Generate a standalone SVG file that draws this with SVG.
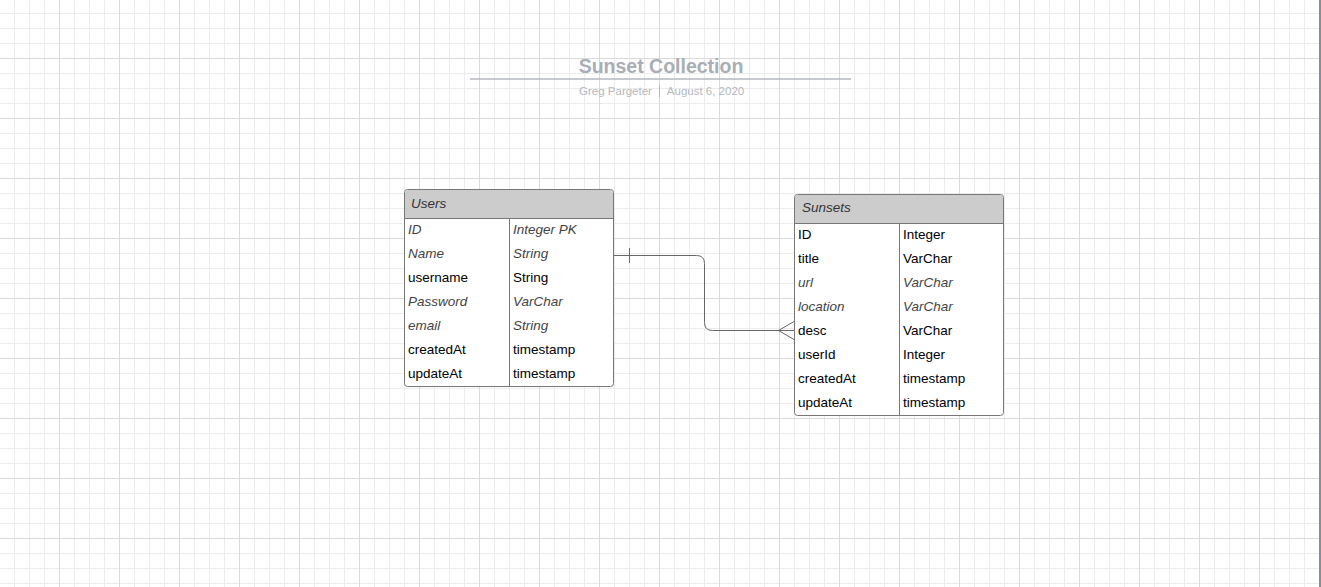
<svg xmlns="http://www.w3.org/2000/svg" width="1321" height="587" viewBox="0 0 1321 587">
<defs>
<pattern id="minor" x="14" y="13" width="15" height="15" patternUnits="userSpaceOnUse">
<path d="M0.5 0V15M0 0.5H15" stroke="#ececec" stroke-width="1" fill="none"/>
</pattern>
<pattern id="major" x="59" y="58" width="60" height="60" patternUnits="userSpaceOnUse">
<path d="M0.5 0V60M0 0.5H60" stroke="#dadada" stroke-width="1" fill="none"/>
</pattern>
</defs>
<style>
text{font-family:"Liberation Sans",Arial,sans-serif;font-size:13.5px;fill:#000}
.i{font-style:italic;fill:#444}
.h{font-style:italic;fill:#333}
.box{fill:#fff;stroke:#777;stroke-width:1}
.hd{fill:#cccccc}
.ln{stroke:#777;stroke-width:1;fill:none}
.conn{stroke:#666;stroke-width:1;fill:none}
.sub{font-size:11.5px;fill:#b5b9c0}
</style>
<rect width="1321" height="587" fill="#fff"/>
<rect width="1321" height="587" fill="url(#minor)"/>
<rect width="1321" height="587" fill="url(#major)"/>
<rect x="1319" y="0" width="2" height="587" fill="#8a8d99"/>

<g id="title">
<text x="661" y="73" text-anchor="middle" style="font-size:19.5px;font-weight:bold;fill:#a9adb5">Sunset Collection</text>
<line x1="470" y1="79" x2="851" y2="79" stroke="#b3b7be" stroke-width="1.5"/>
<text class="sub" x="615.5" y="95" text-anchor="middle">Greg Pargeter</text>
<line x1="659.5" y1="85" x2="659.5" y2="97" stroke="#b5b9c0" stroke-width="1"/>
<text class="sub" x="705.5" y="95" text-anchor="middle">August 6, 2020</text>
</g>

<g id="connectors">
<path class="conn" d="M613.5 255.5H696.5Q704.5 255.5 704.5 263.5V322.5Q704.5 330.5 712.5 330.5H794"/>
<line class="conn" x1="629.5" y1="248" x2="629.5" y2="263"/>
<path class="conn" d="M794 321.5L778.5 330.5L794 339.5"/>
</g>

<g id="users">
<rect class="box" x="404.5" y="189.5" width="209" height="197" rx="3"/>
<path class="hd" d="M405 218.5V193Q405 190 408 190H610Q613 190 613 193V218.5Z"/>
<line class="ln" x1="404.5" y1="218.5" x2="613.5" y2="218.5"/>
<line class="ln" x1="509.5" y1="218.5" x2="509.5" y2="386.5"/>
<text class="h" x="411" y="208">Users</text>
<text class="i" x="408" y="234">ID</text><text class="i" x="513" y="234">Integer PK</text>
<text class="i" x="408" y="258">Name</text><text class="i" x="513" y="258">String</text>
<text x="408" y="282">username</text><text x="513" y="282">String</text>
<text class="i" x="408" y="306">Password</text><text class="i" x="513" y="306">VarChar</text>
<text class="i" x="408" y="330">email</text><text class="i" x="513" y="330">String</text>
<text x="408" y="354">createdAt</text><text x="513" y="354">timestamp</text>
<text x="408" y="378">updateAt</text><text x="513" y="378">timestamp</text>
</g>

<g id="sunsets">
<rect class="box" x="794.5" y="194.5" width="209" height="221" rx="3"/>
<path class="hd" d="M795 223.5V198Q795 195 798 195H1000Q1003 195 1003 198V223.5Z"/>
<line class="ln" x1="794.5" y1="223.5" x2="1003.5" y2="223.5"/>
<line class="ln" x1="899.5" y1="223.5" x2="899.5" y2="415.5"/>
<text class="h" x="802" y="212">Sunsets</text>
<text x="798" y="239">ID</text><text x="903" y="239">Integer</text>
<text x="798" y="263">title</text><text x="903" y="263">VarChar</text>
<text class="i" x="798" y="287">url</text><text class="i" x="903" y="287">VarChar</text>
<text class="i" x="798" y="311">location</text><text class="i" x="903" y="311">VarChar</text>
<text x="798" y="335">desc</text><text x="903" y="335">VarChar</text>
<text x="798" y="359">userId</text><text x="903" y="359">Integer</text>
<text x="798" y="383">createdAt</text><text x="903" y="383">timestamp</text>
<text x="798" y="407">updateAt</text><text x="903" y="407">timestamp</text>
</g>
</svg>
